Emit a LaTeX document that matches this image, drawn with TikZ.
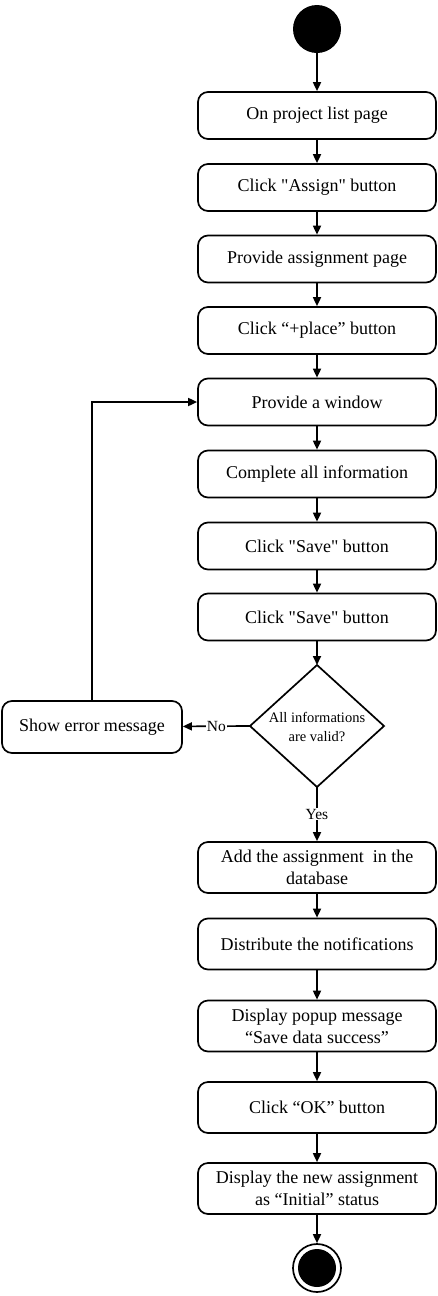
\documentclass[tikz,border=0pt]{standalone}
\usepackage{fontspec}
\setmainfont{Liberation Serif}
\usetikzlibrary{arrows.meta,shapes.geometric}
\begin{document}
\begin{tikzpicture}[x=1pt,y=-1pt,
  stepbox/.style={draw, line width=1.7pt, rounded corners=10pt, minimum width=238pt, minimum height=47pt, align=center, font=\fontsize{18}{22}\selectfont, inner sep=2pt},
  tallbox/.style={stepbox, minimum height=51pt},
  flow/.style={line width=1.7pt, -{Triangle[length=9pt,width=8pt]}},
  lbl/.style={fill=white, font=\fontsize{15.5}{17}\selectfont, inner sep=1pt}
]
\useasboundingbox (0,0) rectangle (438,1296);
\node[circle, fill=black, minimum size=48pt, inner sep=0pt] (start) at (317,29) {};
\node[stepbox] (b1) at (317,115.5) {On project list page};
\node[stepbox] (b2) at (317,187.5) {Click \textquotedbl Assign\textquotedbl\ button};
\node[stepbox] (b3) at (317,259) {Provide assignment page};
\node[stepbox] (b4) at (317,330.5) {Click “+place” button};
\node[stepbox] (b5) at (317,402) {Provide a window};
\node[stepbox] (b6) at (317,474) {Complete all information};
\node[stepbox] (b7) at (317,546) {Click \textquotedbl Save\textquotedbl\ button};
\node[stepbox] (b8) at (317,617) {Click \textquotedbl Save\textquotedbl\ button};
\coordinate (dtop) at (317,665);
\coordinate (dright) at (384,726);
\coordinate (dbot) at (317,787);
\coordinate (dleft) at (250,726);
\draw[line width=1.7pt] (dtop) -- (dright) -- (dbot) -- (dleft) -- cycle;
\node[align=center, font=\fontsize{14.5}{19}\selectfont] (dtext) at (317,727) {All informations\\are valid?};
\node[stepbox, minimum width=180pt, minimum height=52pt] (err) at (92,727) {Show error message};
\node[tallbox] (b9) at (317,867.5) {Add the assignment\ \ in the\\database};
\node[tallbox] (b10) at (317,944) {Distribute the notifications};
\node[tallbox] (b11) at (317,1026) {Display popup message\\“Save data success”};
\node[tallbox] (b12) at (317,1107.5) {Click “OK” button};
\node[tallbox] (b13) at (317,1188.5) {Display the new assignment\\as “Initial” status};
\node[circle, draw, line width=1.7pt, minimum size=48pt, inner sep=0pt] (endo) at (317,1268) {};
\node[circle, fill=black, minimum size=38pt, inner sep=0pt] (end) at (317,1268) {};

\draw[flow] (start) -- (b1);
\draw[flow] (b1) -- (b2);
\draw[flow] (b2) -- (b3);
\draw[flow] (b3) -- (b4);
\draw[flow] (b4) -- (b5);
\draw[flow] (b5) -- (b6);
\draw[flow] (b6) -- (b7);
\draw[flow] (b7) -- (b8);
\draw[flow] (b8) -- (dtop);
\draw[flow] (dleft) -- node[lbl] {No} (err);
\draw[flow] (dbot) -- node[lbl, pos=0.5] {Yes} (b9);
\draw[flow] (err.north) |- (b5.west);
\draw[flow] (b9) -- (b10);
\draw[flow] (b10) -- (b11);
\draw[flow] (b11) -- (b12);
\draw[flow] (b12) -- (b13);
\draw[flow] (b13) -- (endo);
\end{tikzpicture}
\end{document}
